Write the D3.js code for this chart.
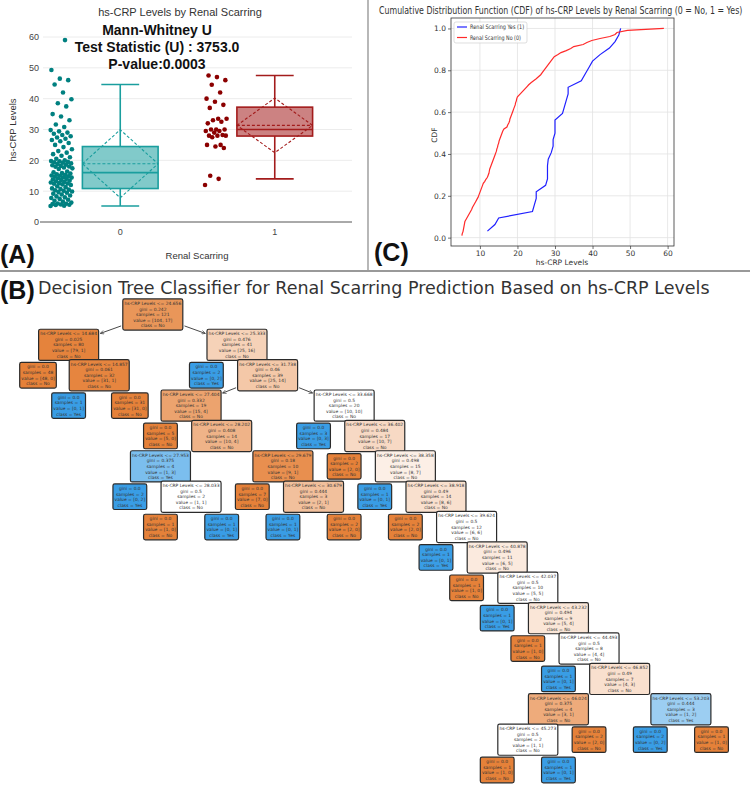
<!DOCTYPE html>
<html>
<head>
<meta charset="utf-8">
<script src="https://cdn.jsdelivr.net/npm/d3@7"></script>
<style>
body { margin: 0; background: #fff; }
svg { display: block; }
</style>
</head>
<body>
<div id="chart"></div>
<script>
const groups = ["0", "1"]
const crpNo = [5.2, 5.3, 5.5, 5.6, 5.7, 5.8, 5.9, 6.0, 6.3, 6.6, 6.9, 7.2, 7.5, 7.8, 8.0,
    8.3, 8.6, 8.9, 9.2, 9.5, 9.7, 9.9, 10.1, 10.3, 10.5, 10.7, 10.9, 11.3, 11.6, 12.0,
    12.2, 12.4, 12.5, 12.6, 12.8, 13.0, 13.2, 13.4, 13.6, 13.8, 14.0, 14.2, 14.4, 14.5, 14.7, 14.8, 15.0,
    15.1, 15.3, 15.5, 15.7, 15.9, 16.1, 16.4, 17.2, 17.4, 17.7, 17.9, 18.0, 18.2, 18.4, 18.6, 18.8, 19.0,
    19.2, 19.4, 19.5, 19.7, 19.8, 20.0, 20.5, 21.0, 21.5, 22.0, 22.5, 23.0, 23.6, 24.3,
    25.0, 25.6, 26.2, 26.6, 27.0, 27.4, 27.8, 28.2, 28.6, 29.0, 29.4, 29.8, 30.8, 31.6,
    33.0, 34.2, 35.0, 37.5, 38.5, 39.8, 42.0, 44.6, 46.0, 46.5, 49.3, 59.0]
const crpYes = [12, 14, 15, 24, 24.5, 25, 25, 27.5, 28, 28, 28, 28.2, 29, 29.5, 29.5, 30, 30, 30,
    32, 32.5, 33, 33.5, 33.5, 37, 38, 39, 40, 42, 44.5, 46, 47, 47.5]
const yTicksA = [0, 10, 20, 30, 40, 50, 60]
const testLines = ["Mann-Whitney U", "Test Statistic (U) : 3753.0", "P-value:0.0003"]

const cdfXTicks = [10, 20, 30, 40, 50, 60]
const cdfYTicks = [0, 0.2, 0.4, 0.6, 0.8, 1.0]
const cdfLegend = ["Renal Scarring Yes (1)", "Renal Scarring No (0)"]

// decision tree, sklearn-style arrays in preorder (-1 = leaf)
const nodeLeft  = [1, 2, -1, 4, -1, -1, 7, -1, 9, 10, -1, 12, 13, -1, 15, -1, -1, 18, -1, 20, -1, -1,
    23, -1, 25, -1, 27, -1, 29, -1, 31, -1, 33, -1, 35, -1, 37, -1, 39, -1, 41, 42, 43, -1, -1, -1, 47, -1, -1]
const nodeRight = [6, 3, -1, 5, -1, -1, 8, -1, 22, 11, -1, 17, 14, -1, 16, -1, -1, 19, -1, 21, -1, -1,
    24, -1, 26, -1, 28, -1, 30, -1, 32, -1, 34, -1, 36, -1, 38, -1, 40, -1, 46, 45, 44, -1, -1, -1, 48, -1, -1]
const nodeThreshold = [24.656, 14.684, null, 14.857, null, null, 25.333, null, 31.738, 27.404, null, 28.202,
    27.953, null, 28.033, null, null, 29.679, null, 30.679, null, null, 33.668, null, 36.402, null, 38.358, null,
    38.918, null, 39.624, null, 40.878, null, 42.037, null, 43.232, null, 44.493, null, 46.852, 46.024, 45.273,
    null, null, null, 53.203, null, null]
const nodeGini = [0.242, 0.025, 0, 0.061, 0, 0, 0.476, 0, 0.46, 0.332, 0, 0.408, 0.375, 0, 0.5, 0, 0, 0.18, 0,
    0.444, 0, 0, 0.5, 0, 0.484, 0, 0.498, 0, 0.49, 0, 0.5, 0, 0.496, 0, 0.5, 0, 0.494, 0, 0.5, 0, 0.49, 0.375,
    0.5, 0, 0, 0, 0.444, 0, 0]
const nodeValueNo  = [104, 79, 48, 31, 0, 31, 25, 0, 25, 15, 5, 10, 1, 0, 1, 1, 0, 9, 7, 2, 0, 2, 10, 0, 10, 2,
    8, 0, 8, 2, 6, 0, 6, 1, 5, 0, 5, 1, 4, 0, 4, 3, 1, 1, 0, 2, 1, 0, 1]
const nodeValueYes = [17, 1, 0, 1, 1, 0, 16, 2, 14, 4, 0, 4, 3, 2, 1, 0, 1, 1, 0, 1, 1, 0, 10, 3, 7, 0,
    7, 1, 6, 0, 6, 1, 5, 0, 5, 1, 4, 0, 4, 1, 3, 1, 1, 0, 1, 0, 2, 2, 0]
const classNames = ["No", "Yes"]

const sansFont = "'Liberation Sans', Arial, sans-serif"
const mplFont = "'DejaVu Sans', sans-serif"

const svg = d3.select('#chart').append('svg')
    .attr('width', 750)
    .attr('height', 794)

// squeeze a text horizontally so it spans `width` px from x
function fitText(sel, x, y, width) {
    const len = sel.node().getComputedTextLength()
    sel.attr('x', 0).attr('y', 0)
        .attr('transform', `translate(${x},${y}) scale(${width / len},1)`)
}

// ---------------- (A) box + strip plot ----------------
const xA = d3.scaleBand().domain(groups).range([43, 352])
const yA = d3.scaleLinear().domain([0, 60]).range([222, 37])
const gA = svg.append('g').attr('font-family', sansFont)

gA.append('g')
    .selectAll('line')
    .data(yTicksA.filter(t => t > 0))
    .join('line')
    .attr('x1', 43).attr('x2', 352)
    .attr('y1', d => yA(d)).attr('y2', d => yA(d))
    .attr('stroke', '#ececec')

const axisA = gA.append('g')
    .attr('transform', 'translate(41,0)')
    .call(d3.axisLeft(yA).tickValues(yTicksA).tickSize(0).tickPadding(2))
axisA.select('.domain').remove()
axisA.selectAll('text').attr('font-size', 9).attr('fill', '#444').attr('font-family', sansFont)

gA.append('line')
    .attr('x1', 40).attr('x2', 352)
    .attr('y1', yA(0)).attr('y2', yA(0))
    .attr('stroke', '#555').attr('stroke-width', 1)

gA.selectAll('.xlab')
    .data(groups)
    .join('text')
    .attr('x', d => xA(d) + xA.bandwidth() / 2)
    .attr('y', 235)
    .attr('text-anchor', 'middle')
    .attr('font-size', 9).attr('fill', '#444')
    .text(d => d)

gA.append('text')
    .attr('x', 16).attr('y', 130)
    .attr('transform', 'rotate(-90,16,130)')
    .attr('text-anchor', 'middle')
    .attr('font-size', 9.5).attr('fill', '#333')
    .text('hs-CRP Levels')

gA.append('text')
    .attr('x', 197).attr('y', 259)
    .attr('text-anchor', 'middle')
    .attr('font-size', 9.5).attr('fill', '#333')
    .text('Renal Scarring')

gA.append('text')
    .attr('x', 180).attr('y', 16)
    .attr('text-anchor', 'middle')
    .attr('font-size', 11).attr('fill', '#333')
    .text('hs-CRP Levels by Renal Scarring')

function boxStats(vals) {
    const s = vals.slice().sort(d3.ascending)
    const q1 = d3.quantile(s, 0.25), med = d3.quantile(s, 0.5), q3 = d3.quantile(s, 0.75)
    const iqr = q3 - q1
    return {
        q1, med, q3,
        lo: d3.min(s.filter(v => v >= q1 - 1.5 * iqr)),
        hi: d3.max(s.filter(v => v <= q3 + 1.5 * iqr)),
        mean: d3.mean(s),
        sd: d3.deviation(s)
    }
}

const groupData = [crpNo, crpYes]
const groupStroke = ['#1a9e9e', '#a31c1c']
const groupPoint = ['#008080', '#8b0000']

groups.forEach((g, gi) => {
    const vals = groupData[gi]
    const st = boxStats(vals)
    const cx = xA(g) + xA.bandwidth() / 2
    const bw = xA.bandwidth() * 0.49
    const col = groupStroke[gi]
    const box = gA.append('g')

    // whiskers
    box.append('line').attr('x1', cx).attr('x2', cx).attr('y1', yA(st.q3)).attr('y2', yA(st.hi))
        .attr('stroke', col).attr('stroke-width', 1.6)
    box.append('line').attr('x1', cx).attr('x2', cx).attr('y1', yA(st.q1)).attr('y2', yA(st.lo))
        .attr('stroke', col).attr('stroke-width', 1.6)
    box.selectAll('.cap').data([st.lo, st.hi]).join('line')
        .attr('x1', cx - bw / 4).attr('x2', cx + bw / 4)
        .attr('y1', d => yA(d)).attr('y2', d => yA(d))
        .attr('stroke', col).attr('stroke-width', 1.6)
    box.append('rect')
        .attr('x', cx - bw / 2).attr('width', bw)
        .attr('y', yA(st.q3)).attr('height', yA(st.q1) - yA(st.q3))
        .attr('fill', col).attr('fill-opacity', 0.55)
        .attr('stroke', col).attr('stroke-width', 1.6)
    box.append('line').attr('x1', cx - bw / 2).attr('x2', cx + bw / 2)
        .attr('y1', yA(st.med)).attr('y2', yA(st.med))
        .attr('stroke', col).attr('stroke-width', 1.6)
    box.append('line').attr('x1', cx - bw / 2).attr('x2', cx + bw / 2)
        .attr('y1', yA(st.mean)).attr('y2', yA(st.mean))
        .attr('stroke', col).attr('stroke-width', 1.1).attr('stroke-dasharray', '3,2')
    box.append('path')
        .attr('d', d3.line()([[cx - bw / 2, yA(st.mean)], [cx, yA(st.mean + st.sd)],
            [cx + bw / 2, yA(st.mean)], [cx, yA(st.mean - st.sd)]]) + 'Z')
        .attr('fill', 'none').attr('stroke', col)
        .attr('stroke-width', 1.1).attr('stroke-dasharray', '3,2')

    // jittered points (deterministic spread)
    const px = cx - xA.bandwidth() * 0.38
    box.selectAll('circle')
        .data(vals)
        .join('circle')
        .attr('cx', (d, i) => px + (((i * 0.618034) % 1) - 0.5) * 22)
        .attr('cy', d => yA(d))
        .attr('r', 2.3)
        .attr('fill', groupPoint[gi])
})

gA.selectAll('.test')
    .data(testLines)
    .join('text')
    .attr('x', 157)
    .attr('y', (d, i) => 35 + i * 17)
    .attr('text-anchor', 'middle')
    .attr('font-size', 14).attr('font-weight', 'bold').attr('fill', '#111')
    .text(d => d)

gA.append('text')
    .attr('x', 0).attr('y', 263)
    .attr('font-size', 25).attr('font-weight', 'bold').attr('fill', '#111')
    .text('(A)')

// ---------------- (C) CDF ----------------
const xC = d3.scaleLinear().domain([2.3, 61.7]).range([451, 674])
const yC = d3.scaleLinear().domain([-0.04, 1.05]).range([246, 18])
const gC = svg.append('g').attr('font-family', mplFont)

gC.append('g').selectAll('line').data(cdfXTicks).join('line')
    .attr('x1', d => xC(d)).attr('x2', d => xC(d)).attr('y1', 18).attr('y2', 246)
    .attr('stroke', '#e2e2e2').attr('stroke-width', 0.8)
gC.append('g').selectAll('line').data(cdfYTicks).join('line')
    .attr('y1', d => yC(d)).attr('y2', d => yC(d)).attr('x1', 451).attr('x2', 674)
    .attr('stroke', '#e2e2e2').attr('stroke-width', 0.8)

const axCx = gC.append('g').attr('transform', 'translate(0,246)')
    .call(d3.axisBottom(xC).tickValues(cdfXTicks).tickSize(3).tickPadding(2).tickFormat(d3.format('d')))
const axCy = gC.append('g').attr('transform', 'translate(451,0)')
    .call(d3.axisLeft(yC).tickValues(cdfYTicks).tickSize(3).tickPadding(2).tickFormat(d3.format('.1f')))
;[axCx, axCy].forEach(ax => {
    ax.select('.domain').remove()
    ax.selectAll('line').attr('stroke', '#333').attr('stroke-width', 0.7)
    ax.selectAll('text').attr('font-size', 7.5).attr('fill', '#333').attr('font-family', mplFont)
})
gC.append('rect')
    .attr('x', 451).attr('y', 18).attr('width', 223).attr('height', 228)
    .attr('fill', 'none').attr('stroke', '#333').attr('stroke-width', 0.8)

function cdfPoints(vals) {
    const s = vals.slice().sort(d3.ascending)
    return s.map((v, i) => [v, (i + 1) / s.length])
}
const cdfLine = d3.line().x(d => xC(d[0])).y(d => yC(d[1]))
gC.append('path').attr('d', cdfLine(cdfPoints(crpYes)))
    .attr('fill', 'none').attr('stroke', '#2020ff').attr('stroke-width', 1.2)
gC.append('path').attr('d', cdfLine(cdfPoints(crpNo)))
    .attr('fill', 'none').attr('stroke', '#ff2a2a').attr('stroke-width', 1.2)

const leg = gC.append('g')
leg.append('rect').attr('x', 454).attr('y', 22).attr('width', 73).attr('height', 21).attr('rx', 2)
    .attr('fill', '#fff').attr('fill-opacity', 0.85).attr('stroke', '#d0d0d0').attr('stroke-width', 0.7)
leg.selectAll('line').data(cdfLegend).join('line')
    .attr('x1', 457).attr('x2', 467)
    .attr('y1', (d, i) => 27 + i * 10.5).attr('y2', (d, i) => 27 + i * 10.5)
    .attr('stroke', (d, i) => i === 0 ? '#2020ff' : '#ff2a2a').attr('stroke-width', 1.2)
leg.selectAll('text').data(cdfLegend).join('text')
    .attr('font-size', 6.2).attr('fill', '#333')
    .text(d => d)
    .each(function (d, i) { fitText(d3.select(this), 470, 29.3 + i * 10.5, i === 0 ? 54 : 51) })

fitText(gC.append('text')
    .attr('font-size', 10.5).attr('fill', '#333')
    .text('Cumulative Distribution Function (CDF) of hs-CRP Levels by Renal Scarring (0 = No, 1 = Yes)'),
    379, 14, 364)
gC.append('text')
    .attr('x', 562).attr('y', 265)
    .attr('text-anchor', 'middle').attr('font-size', 7.5).attr('fill', '#333')
    .text('hs-CRP Levels')
gC.append('text')
    .attr('x', 437).attr('y', 135)
    .attr('transform', 'rotate(-90,437,135)')
    .attr('text-anchor', 'middle').attr('font-size', 7.5).attr('fill', '#333')
    .text('CDF')
gC.append('text')
    .attr('x', 374).attr('y', 261)
    .attr('font-family', sansFont)
    .attr('font-size', 25).attr('font-weight', 'bold').attr('fill', '#111')
    .text('(C)')

// separators
svg.append('line').attr('x1', 368).attr('x2', 368).attr('y1', 0).attr('y2', 271)
    .attr('stroke', '#888').attr('stroke-width', 1.2)
svg.append('line').attr('x1', 0).attr('x2', 750).attr('y1', 271).attr('y2', 271)
    .attr('stroke', '#999').attr('stroke-width', 2)

// ---------------- (B) decision tree ----------------
svg.append('text')
    .attr('x', 0).attr('y', 299)
    .attr('font-family', sansFont)
    .attr('font-size', 25).attr('font-weight', 'bold').attr('fill', '#111')
    .text('(B)')
fitText(svg.append('text')
    .attr('font-family', mplFont)
    .attr('font-size', 18).attr('fill', '#333')
    .text('Decision Tree Classifier for Renal Scarring Prediction Based on hs-CRP Levels'),
    38, 294, 672)

function buildNode(i) {
    const n = { id: i }
    if (nodeLeft[i] >= 0) n.children = [buildNode(nodeLeft[i]), buildNode(nodeRight[i])]
    return n
}
const root = d3.hierarchy(buildNode(0))
d3.tree().nodeSize([1, 1]).separation(() => 1)(root)
const treeNodes = root.descendants()
const xT = d3.scaleLinear().domain(d3.extent(treeNodes, d => d.x)).range([38, 711.5])
const yT = d3.scaleLinear().domain([0, root.height]).range([314.5, 770])

const classRgb = [[229, 129, 57], [57, 157, 229]]
function nodeColor(i) {
    const tot = nodeValueNo[i] + nodeValueYes[i]
    const p = [nodeValueNo[i] / tot, nodeValueYes[i] / tot]
    const k = p[0] >= p[1] ? 0 : 1
    const sorted = p.slice().sort((a, b) => b - a)
    const alpha = (sorted[0] - sorted[1]) / (1 - sorted[1])
    const c = classRgb[k].map(v => Math.round(alpha * v + (1 - alpha) * 255))
    return d3.rgb(c[0], c[1], c[2]).formatHex()
}
function fmt(v) {
    return Number.isInteger(v) ? v.toFixed(1) : String(v)
}
function nodeLines(i) {
    const out = []
    if (nodeLeft[i] >= 0) out.push(`hs-CRP Levels <= ${nodeThreshold[i]}`)
    out.push(`gini = ${fmt(nodeGini[i])}`)
    out.push(`samples = ${nodeValueNo[i] + nodeValueYes[i]}`)
    out.push(`value = [${nodeValueNo[i]}, ${nodeValueYes[i]}]`)
    out.push(`class = ${nodeValueNo[i] >= nodeValueYes[i] ? classNames[0] : classNames[1]}`)
    return out
}

const fs = 4.45, lineH = 5.6, pad = 1.6
const edgeG = svg.append('g')
const nodeG = svg.append('g').attr('font-family', mplFont).attr('font-size', fs)
const boxes = {}

treeNodes.forEach(d => {
    const i = d.data.id
    const cx = xT(d.x), cy = yT(d.y)
    const lines = nodeLines(i)
    const g = nodeG.append('g').attr('transform', `translate(${cx},${cy})`)
    const rect = g.append('rect')
    const txt = g.append('text').attr('text-anchor', 'middle').attr('fill', '#333')
    txt.selectAll('tspan').data(lines).join('tspan')
        .attr('x', 0)
        .attr('y', (l, k) => (k - (lines.length - 1) / 2) * lineH + fs * 0.36)
        .text(l => l)
    let w = 0
    txt.selectAll('tspan').each(function () { w = Math.max(w, this.getComputedTextLength()) })
    const bw = w + 2 * pad, bh = lines.length * lineH + 2 * pad
    rect.attr('x', -bw / 2).attr('y', -bh / 2).attr('width', bw).attr('height', bh)
        .attr('rx', 1.8)
        .attr('fill', nodeColor(i))
        .attr('stroke', '#2b2b2b').attr('stroke-width', 1.2)
    boxes[i] = { cx, cy, w: bw, h: bh }
})

svg.append('defs').append('marker')
    .attr('id', 'arrowhead')
    .attr('viewBox', '0 0 10 10')
    .attr('refX', 9).attr('refY', 5)
    .attr('markerWidth', 4.5).attr('markerHeight', 4.5)
    .attr('markerUnits', 'userSpaceOnUse')
    .attr('orient', 'auto')
    .append('path')
    .attr('d', 'M1,1L9,5L1,9')
    .attr('fill', 'none').attr('stroke', '#333').attr('stroke-width', 1.4)

// parameter where a ray from the box centre leaves the box
function exitT(b, dx, dy) {
    const tx = dx !== 0 ? (b.w / 2) / Math.abs(dx) : Infinity
    const ty = dy !== 0 ? (b.h / 2) / Math.abs(dy) : Infinity
    return Math.min(tx, ty)
}

root.links().forEach(l => {
    const a = boxes[l.source.data.id], b = boxes[l.target.data.id]
    const dx = b.cx - a.cx, dy = b.cy - a.cy
    const t0 = exitT(a, dx, dy) + 0.02
    const t1 = 1 - exitT(b, dx, dy) - 0.02
    if (t1 - t0 < 0.04) return
    edgeG.append('line')
        .attr('x1', a.cx + dx * t0).attr('y1', a.cy + dy * t0)
        .attr('x2', a.cx + dx * t1).attr('y2', a.cy + dy * t1)
        .attr('stroke', '#333').attr('stroke-width', 0.9)
        .attr('marker-end', 'url(#arrowhead)')
})
</script>
</body>
</html>
